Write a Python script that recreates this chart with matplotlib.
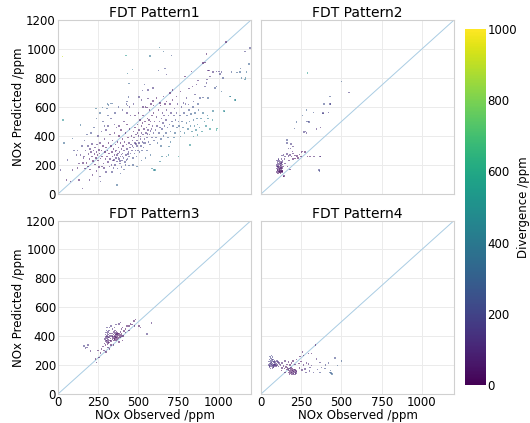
import numpy as np
import matplotlib
matplotlib.use("Agg")
import matplotlib.pyplot as plt
from matplotlib.colors import Normalize

plt.rcParams["font.family"] = ["DejaVu Sans"]
plt.rcParams["font.size"] = 8.5

# ---------------------------------------------------------------- data (observed, predicted) in ppm
p1 = [
    # left / low obs
    (27, 948), (31, 510), (17, 166), (58, 235), (89, 166), (52, 97), (79, 85), (130, 97), (37, 350), (89, 384),
    (141, 476), (114, 269), (161, 258), (168, 177), (157, 212), (151, 39), (265, 85), (368, 62), (100, 300), (120, 180),
    (160, 250), (172, 300), (178, 212), (185, 330), (190, 275), (195, 240), (200, 310), (205, 290), (210, 260), (213, 345),
    (218, 228), (222, 300), (226, 275), (230, 320), (235, 250), (238, 290), (242, 340), (246, 268), (250, 230), (255, 305),
    (258, 280), (262, 350), (265, 245), (270, 300), (275, 260), (280, 330), (284, 210), (288, 380), (292, 290), (296, 240),
    (300, 320), (186, 190), (200, 170), (215, 130), (240, 160), (260, 120), (275, 190), (150, 330), (165, 370), (180, 410),
    (205, 420), (225, 460), (250, 400), (270, 430), (290, 470), (240, 520), (260, 560), (280, 500), (300, 440), (310, 540),
    (235, 590), (140, 270), (130, 210), (120, 300), (195, 95), (255, 185), (230, 205), (300, 150), (285, 180),
    # 300-450
    (305, 260), (308, 300), (312, 220), (315, 350), (318, 280), (322, 240), (325, 410), (328, 330), (332, 200), (335, 290),
    (338, 260), (340, 370), (343, 230), (346, 310), (350, 420), (352, 270), (355, 200), (358, 340), (360, 250), (362, 300),
    (365, 460), (368, 225), (370, 360), (372, 280), (375, 320), (378, 240), (380, 400), (383, 290), (386, 210), (388, 350),
    (390, 260), (393, 440), (395, 310), (398, 230), (400, 380), (402, 280), (405, 330), (408, 250), (410, 500), (412, 300),
    (415, 360), (418, 220), (420, 420), (422, 270), (425, 340), (428, 310), (430, 480), (432, 240), (435, 390), (438, 290),
    (440, 350), (443, 260), (445, 450), (448, 320), (450, 540), (310, 470), (330, 520), (355, 560), (375, 600), (400, 580),
    (425, 620), (445, 600), (320, 190), (345, 180), (370, 175), (395, 185), (420, 200), (440, 195), (335, 150), (390, 140),
    (410, 170), (380, 470), (350, 480), (430, 560), (305, 590), (315, 615), (340, 625), (348, 235), (366, 268), (384, 226),
    (402, 258), (426, 236), (436, 276), (358, 292), (376, 252), (394, 274),
    # 450-600
    (452, 280), (455, 340), (458, 400), (460, 300), (463, 370), (465, 250), (468, 430), (470, 320), (472, 390), (475, 280),
    (478, 460), (480, 350), (482, 300), (485, 410), (488, 260), (490, 370), (492, 330), (495, 480), (498, 300), (500, 400),
    (503, 350), (505, 440), (508, 290), (510, 510), (512, 380), (515, 330), (518, 420), (520, 470), (523, 300), (525, 360),
    (528, 540), (530, 410), (533, 320), (535, 450), (538, 380), (540, 500), (543, 350), (545, 600), (548, 420), (550, 460),
    (553, 300), (555, 390), (558, 520), (560, 440), (563, 360), (565, 480), (568, 580), (570, 410), (573, 340), (575, 500),
    (578, 620), (580, 450), (583, 390), (585, 540), (588, 470), (590, 640), (593, 420), (595, 560), (598, 370), (600, 500),
    (465, 200), (490, 190), (520, 230), (545, 250), (575, 270), (596, 166), (586, 177), (648, 258), (500, 560), (530, 600),
    (480, 540), (560, 660), (520, 650), (470, 620), (505, 669), (539, 754), (526, 713), (561, 717), (588, 731), (553, 598),
    (594, 611), (462, 330), (486, 344), (514, 396), (536, 352), (556, 412), (576, 436), (494, 422), (526, 488), (566, 512),
    # 600-750
    (605, 440), (610, 390), (613, 530), (617, 470), (620, 350), (624, 580), (627, 420), (630, 500), (634, 460), (637, 610),
    (640, 380), (643, 520), (646, 450), (650, 560), (653, 490), (656, 400), (660, 540), (663, 470), (666, 620), (670, 420),
    (673, 510), (676, 580), (680, 460), (684, 390), (688, 540), (692, 480), (696, 620), (700, 430), (704, 560), (708, 500),
    (712, 650), (716, 470), (720, 540), (724, 590), (728, 420), (732, 510), (736, 560), (740, 460), (744, 620), (748, 500),
    (634, 223), (675, 258), (686, 269), (603, 166), (655, 673), (676, 639), (613, 662), (634, 628), (696, 697), (713, 719),
    (738, 673), (689, 327), (762, 396), (748, 258), (640, 330), (700, 360), (720, 390),
    # 750-1000
    (752, 470), (758, 540), (763, 430), (768, 600), (772, 500), (778, 460), (783, 560), (788, 420), (793, 620), (798, 490),
    (803, 540), (808, 450), (813, 580), (818, 500), (823, 470), (828, 550), (833, 430), (838, 600), (843, 510), (848, 470),
    (853, 560), (858, 440), (863, 520), (868, 480), (873, 580), (880, 460), (888, 520), (895, 430), (903, 560), (910, 500),
    (920, 470), (930, 540), (945, 450), (960, 510), (779, 628), (810, 616), (841, 639), (872, 621), (762, 708), (800, 662),
    (851, 685), (883, 662), (903, 667), (934, 662), (816, 726), (837, 742), (862, 754), (872, 782), (914, 742), (924, 766),
    (928, 789), (789, 811), (831, 846), (820, 338), (841, 396), (866, 407), (934, 522), (965, 573), (986, 441), (1031, 573),
    (990, 453),
    # sparse top / right
    (1044, 1048), (1193, 1007), (1162, 984), (1186, 900), (1165, 800), (1103, 649), (1072, 672), (1035, 568), (1069, 673),
    (1100, 650), (1189, 892), (1141, 800), (1162, 789), (945, 811), (1007, 828), (1027, 800), (986, 742), (1017, 708),
    (976, 731), (965, 842), (986, 846), (1017, 842), (1079, 842), (1131, 842), (1172, 842), (913, 908), (903, 904),
    (934, 851), (924, 966), (655, 984), (707, 956), (630, 1012), (624, 851), (665, 864), (676, 823), (593, 731),
    (1000, 844), (1114, 837), (1135, 867), (938, 851), (423, 954), (572, 950), (464, 858), (431, 832), (443, 763),
    (429, 639), (437, 669), (309, 621), (330, 625), (278, 598), (433, 609),
]

p2 = [
    (96, 150), (98, 175), (100, 200), (101, 160), (102, 220), (104, 185), (105, 145), (106, 210), (107, 170), (108, 235),
    (109, 195), (110, 155), (111, 225), (112, 180), (113, 205), (114, 150), (115, 190), (116, 230), (117, 165), (118, 215),
    (119, 175), (120, 200), (121, 145), (122, 225), (123, 185), (124, 160), (125, 210), (126, 240), (127, 175), (128, 195),
    (129, 150), (130, 220), (131, 180), (132, 205), (133, 160), (134, 230), (135, 190), (99, 190), (103, 165), (110, 240),
    (114, 170), (118, 150), (122, 195), (126, 170), (130, 160), (100, 230), (106, 190), (112, 160), (120, 180), (128, 215),
    (130, 265), (140, 270), (150, 258), (160, 275), (170, 262), (180, 270), (190, 258), (200, 280), (210, 265), (225, 262),
    (240, 272), (250, 258), (253, 288), (274, 288), (288, 258), (305, 257), (329, 258), (368, 257), (371, 258), (257, 292),
    (184, 315), (195, 292), (211, 246), (170, 315), (187, 345), (199, 327), (160, 373), (161, 350), (207, 451), (222, 495),
    (267, 428), (284, 419), (346, 448), (371, 457), (286, 500), (299, 495), (259, 543), (325, 563), (384, 554), (418, 563),
    (284, 580), (392, 619), (429, 619), (428, 672), (499, 775), (547, 699), (290, 835), (294, 499), (277, 430), (385, 557),
    (433, 621), (184, 170), (143, 124), (360, 166), (363, 159), (176, 170), (139, 120), (145, 240), (175, 230), (200, 240),
    (230, 250), (150, 210), (165, 190),
]

p3 = [
    (290, 350), (292, 380), (294, 410), (295, 340), (297, 365), (298, 395), (300, 425), (301, 355), (302, 385), (303, 440),
    (305, 370), (306, 400), (307, 345), (308, 415), (309, 380), (310, 430), (311, 360), (312, 395), (313, 350), (314, 410),
    (315, 375), (316, 440), (317, 390), (318, 355), (320, 420), (322, 370), (324, 400), (326, 385), (328, 420), (330, 365),
    (335, 400), (338, 380), (340, 420), (342, 395), (344, 370), (345, 410), (347, 430), (348, 385), (350, 400), (351, 375),
    (352, 420), (354, 395), (355, 440), (356, 380), (357, 410), (358, 400), (359, 425), (360, 390), (361, 415), (362, 370),
    (363, 405), (364, 430), (365, 395), (366, 420), (367, 380), (368, 410), (369, 400), (370, 425), (372, 390), (374, 415),
    (376, 385), (378, 405), (380, 420), (382, 395), (385, 410), (388, 390), (390, 430), (393, 400), (396, 415),
    (161, 333), (172, 317), (186, 338), (180, 320), (203, 299), (238, 218), (234, 241), (255, 253), (265, 283), (250, 300),
    (270, 310), (285, 300), (300, 290), (310, 320), (320, 310), (280, 330), (472, 506), (482, 517), (451, 483), (430, 471),
    (476, 471), (503, 471), (513, 460), (580, 490), (555, 414), (379, 483), (389, 494), (410, 437), (420, 425), (400, 460),
    (420, 450), (440, 470), (460, 480), (395, 450), (350, 460), (340, 450), (330, 470), (360, 480), (405, 400), (440, 440),
    (380, 360), (400, 370), (345, 340), (330, 340), (320, 460), (305, 460),
]

p4 = [
    (48, 200), (50, 225), (52, 185), (54, 240), (55, 210), (57, 195), (58, 230), (60, 175), (61, 215), (62, 205),
    (64, 245), (65, 190), (66, 220), (68, 200), (69, 235), (70, 180), (72, 210), (73, 225), (75, 195), (76, 240),
    (78, 205), (79, 185), (80, 220), (82, 200), (84, 230), (85, 190), (87, 215), (88, 205), (90, 225), (92, 195),
    (95, 210), (98, 230), (100, 200), (104, 220), (108, 190), (112, 215), (116, 205), (56, 260), (66, 265), (77, 184),
    (87, 202), (60, 250), (70, 255),
    (170, 165), (173, 150), (175, 175), (178, 140), (180, 160), (182, 170), (185, 145), (187, 180), (188, 155), (190, 135),
    (192, 165), (194, 150), (196, 175), (198, 140), (200, 160), (202, 145), (204, 170), (206, 155), (208, 135), (210, 165),
    (212, 150), (214, 140), (216, 160), (218, 145), (220, 155), (165, 180), (160, 170), (155, 185),
    (120, 200), (130, 215), (140, 195), (150, 230), (160, 205), (170, 220), (180, 200), (190, 215), (200, 230), (210, 205),
    (220, 240), (235, 210), (250, 225), (265, 200), (283, 215), (128, 161), (149, 150), (339, 338), (257, 292), (294, 281),
    (315, 281), (242, 260), (263, 265), (460, 248), (501, 230), (474, 196), (428, 150), (440, 138), (432, 161), (436, 145),
    (397, 177), (377, 184), (325, 150), (366, 150), (273, 173), (304, 184), (346, 241), (366, 218), (294, 207), (315, 196),
    (240, 180), (255, 165), (280, 150), (300, 160), (350, 170), (400, 200), (420, 215), (130, 180), (145, 175),
]

titles = ["FDT Pattern1", "FDT Pattern2", "FDT Pattern3", "FDT Pattern4"]
ticks = [0, 250, 500, 750, 1000]
yticks = [0, 200, 400, 600, 800, 1000, 1200]
cbar_ticks = [0, 200, 400, 600, 800, 1000]
LIM = (0, 1200)

# ---------------------------------------------------------------- canvas
fig = plt.figure(figsize=(5.3, 4.23), dpi=100)
boxes = [
    [0.1094, 0.5414, 0.3642, 0.4113],
    [0.4925, 0.5414, 0.3642, 0.4113],
    [0.1094, 0.0686, 0.3642, 0.4100],
    [0.4925, 0.0686, 0.3642, 0.4100],
]
norm = Normalize(vmin=0, vmax=1000)
cmap = plt.get_cmap("viridis")

for i, (pts, title, box) in enumerate(zip([p1, p2, p3, p4], titles, boxes)):
    ax = fig.add_axes(box)
    arr = np.array(pts, dtype=float)
    obs, pred = arr[:, 0], arr[:, 1]
    div = np.abs(pred - obs)   # colour = |predicted - observed|
    ax.axline((0, 0), slope=1, color="#a9cce3", lw=0.7, zorder=1)
    ax.scatter(obs, pred, c=div, cmap=cmap, norm=norm, s=1.2, marker="s",
               linewidths=0, alpha=0.55, zorder=2)
    ax.set_xlim(LIM)
    ax.set_ylim(LIM)
    ax.set_xticks(ticks)
    ax.set_yticks(yticks)
    ax.grid(True, color="#ebebeb", lw=0.7)
    ax.set_axisbelow(True)
    for s in ax.spines.values():
        s.set_color("#d0d0d0")
        s.set_linewidth(0.8)
    ax.tick_params(length=0, pad=1.5, labelsize=8.5)
    ax.set_title(title, fontsize=10, pad=2)
    if i % 2 == 0:
        ax.set_ylabel("NOx Predicted /ppm", fontsize=8.5, labelpad=1)
    else:
        ax.tick_params(labelleft=False)
    if i >= 2:
        ax.set_xlabel("NOx Observed /ppm", fontsize=8.5, labelpad=0)
    else:
        ax.tick_params(labelbottom=False)

cax = fig.add_axes([0.8774, 0.0898, 0.0396, 0.8416])
cb = fig.colorbar(plt.cm.ScalarMappable(norm=norm, cmap=cmap), cax=cax)
cb.set_ticks(cbar_ticks)
cb.outline.set_visible(False)
cax.tick_params(length=0, pad=1, labelsize=8.5)
cb.set_label("Divergence /ppm", fontsize=8.5, labelpad=0)

fig.savefig("out.png", dpi=100)
